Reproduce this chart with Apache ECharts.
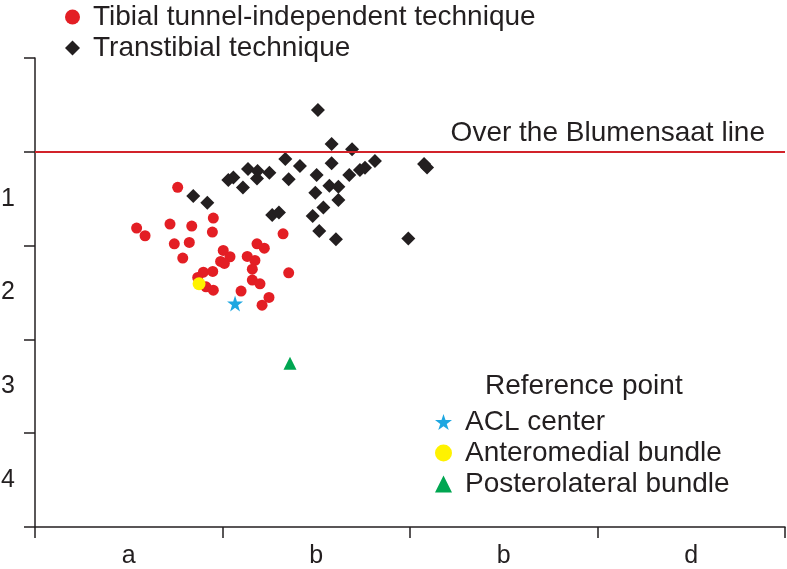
<!DOCTYPE html>
<html>
<head>
<meta charset="utf-8">
<script src="https://cdn.jsdelivr.net/npm/echarts@6/dist/echarts.min.js"></script>
<style>html,body{margin:0;padding:0;background:#fff}#c{width:787px;height:569px}</style>
</head>
<body>
<div id="c"></div>
<script>
// Tick / category labels
var xCategories = ['a', 'b', 'b', 'd'];
var yCategories = ['', '1', '2', '3', '4'];

// Series names
var nameTibial = 'Tibial tunnel-independent technique';
var nameTrans = 'Transtibial technique';
var nameACL = 'ACL center';
var nameAM = 'Anteromedial bundle';
var namePL = 'Posterolateral bundle';
var blumensaatLabel = 'Over the Blumensaat line';
var blumensaatValue = 1;

// Data [x, y] (x: 0..4 across the categories, y: 0..5 downward)
var tibialPoints = [
  [0.761,1.379],[0.542,1.813],[0.587,1.895],[0.720,1.771],[0.836,1.792],
  [0.951,1.707],[0.946,1.856],[0.743,1.981],[0.823,1.966],[0.788,2.133],
  [1.004,2.051],[1.040,2.119],[0.990,2.169],[1.010,2.190],[1.184,1.981],
  [1.223,2.027],[1.132,2.115],[1.173,2.158],[1.159,2.251],[1.323,1.874],
  [1.353,2.290],[0.898,2.283],[0.948,2.275],[0.868,2.339],[0.912,2.439],
  [0.951,2.475],[1.099,2.485],[1.159,2.368],[1.200,2.407],[1.248,2.553],
  [1.211,2.635]
];
var transPoints = [
  [1.509,0.555],[1.582,0.917],[1.691,0.974],[1.335,1.077],[1.413,1.152],
  [1.582,1.123],[1.813,1.099],[1.760,1.170],[1.733,1.195],[2.075,1.131],
  [2.091,1.168],[1.058,1.273],[1.031,1.301],[1.136,1.184],[1.187,1.205],
  [1.184,1.285],[1.250,1.223],[1.353,1.293],[1.502,1.248],[1.676,1.248],
  [1.109,1.381],[1.570,1.362],[1.618,1.373],[1.495,1.437],[1.618,1.515],
  [1.538,1.593],[1.481,1.685],[1.265,1.675],[1.301,1.648],[0.844,1.472],
  [0.919,1.543],[1.516,1.845],[1.605,1.931],[1.991,1.923]
];
var aclCenter = [[1.067,2.617]];
var amBundle = [[0.875,2.407]];
var plBundle = [[1.360,3.253]];

var starPath = 'path://M50,0 L61.2,34.5 L97.6,34.5 L68.2,55.9 L79.4,90.5 L50,69.1 L20.6,90.5 L31.8,55.9 L2.4,34.5 L38.8,34.5 Z';
var textColor = '#231f20';
var fontFam = '"Liberation Sans", Arial, sans-serif';

var chart = echarts.init(document.getElementById('c'), null, {renderer: 'canvas'});
chart.setOption({
  animation: false,
  backgroundColor: '#fff',
  textStyle: {fontFamily: fontFam, color: textColor},
  title: {
    text: 'Reference point', left: 480, top: 367,
    textStyle: {fontSize: 28, fontWeight: 'normal', color: textColor, fontFamily: fontFam}
  },
  legend: [{
    data: [nameTibial, nameTrans],
    orient: 'vertical', left: 60, top: -2, itemGap: 3,
    itemWidth: 15, itemHeight: 15,
    textStyle: {fontSize: 28, color: textColor, fontFamily: fontFam, padding: [0,0,0,8]}
  }, {
    data: [nameACL, nameAM, namePL],
    orient: 'vertical', left: 430, top: 403, itemGap: 3,
    itemWidth: 17, itemHeight: 17,
    textStyle: {fontSize: 28, color: textColor, fontFamily: fontFam, padding: [0,0,0,8]}
  }],
  grid: {left: 35, right: 2, top: 58, bottom: 42, containLabel: false, outerBoundsMode: 'none'},
  xAxis: [{
    type: 'value', min: 0, max: 4, show: false, position: 'top'
  }, {
    type: 'category', data: xCategories, boundaryGap: true, position: 'bottom',
    axisLine: {show: true, lineStyle: {color: textColor, width: 1.5}},
    axisTick: {show: true, alignWithLabel: false, interval: 0, inside: false, length: 11, lineStyle: {color: textColor, width: 1.5}},
    axisLabel: {fontSize: 25, color: textColor, margin: 17, fontFamily: fontFam},
    splitLine: {show: false}
  }],
  yAxis: [{
    type: 'value', min: 0, max: 5, inverse: true, show: false, position: 'right'
  }, {
    type: 'category', data: yCategories, boundaryGap: true, inverse: true, position: 'left',
    axisLine: {show: true, lineStyle: {color: textColor, width: 1.5}},
    axisTick: {show: true, alignWithLabel: false, interval: 0, inside: false, length: 11, lineStyle: {color: textColor, width: 1.5}},
    axisLabel: {fontSize: 25, color: textColor, margin: 20, fontFamily: fontFam},
    splitLine: {show: false}
  }],
  series: [{
    name: nameTibial, type: 'scatter', xAxisIndex: 0, yAxisIndex: 0,
    symbol: 'circle', symbolSize: 11, itemStyle: {color: '#e31e24', opacity: 1},
    data: tibialPoints, z: 3
  }, {
    name: nameTrans, type: 'scatter', xAxisIndex: 0, yAxisIndex: 0,
    symbol: 'diamond', symbolSize: 14, itemStyle: {color: textColor, opacity: 1},
    data: transPoints, z: 3,
    markLine: {
      silent: true, symbol: 'none',
      lineStyle: {color: '#d2232a', width: 2, type: 'solid'},
      label: {
        show: true, position: 'insideEndTop', formatter: blumensaatLabel,
        fontSize: 28, color: textColor, fontFamily: fontFam, distance: [20, 5]
      },
      data: [{yAxis: blumensaatValue}]
    }
  }, {
    name: nameACL, type: 'scatter', xAxisIndex: 0, yAxisIndex: 0,
    symbol: starPath, symbolSize: 16, itemStyle: {color: '#1ea7e1', opacity: 1},
    data: aclCenter, z: 4
  }, {
    name: nameAM, type: 'scatter', xAxisIndex: 0, yAxisIndex: 0,
    symbol: 'circle', symbolSize: 13, itemStyle: {color: '#fff200', opacity: 1},
    data: amBundle, z: 4
  }, {
    name: namePL, type: 'scatter', xAxisIndex: 0, yAxisIndex: 0,
    symbol: 'triangle', symbolSize: 13, itemStyle: {color: '#00a651', opacity: 1},
    data: plBundle, z: 4
  }]
});
</script>
</body>
</html>
